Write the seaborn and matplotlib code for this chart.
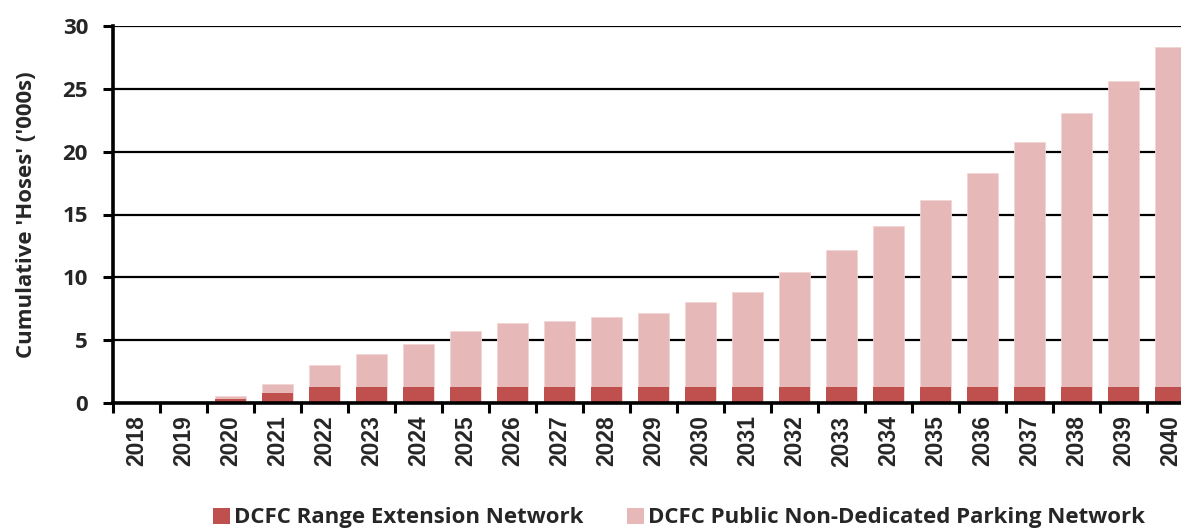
import matplotlib
matplotlib.use("Agg")
import matplotlib.pyplot as plt
import seaborn as sns
import pandas as pd
import numpy as np
from matplotlib.patches import Patch
from matplotlib.ticker import FixedLocator

years = [str(y) for y in range(2018, 2041)]
range_extension = [0, 0, 0.30, 0.82, 1.30, 1.30, 1.30, 1.30, 1.30, 1.30, 1.30, 1.30,
                   1.30, 1.30, 1.30, 1.30, 1.30, 1.30, 1.30, 1.30, 1.30, 1.30, 1.30]
public_parking = [0, 0, 0.25, 0.68, 1.75, 2.61, 3.43, 4.41, 5.07, 5.23, 5.53, 5.89,
                  6.74, 7.57, 9.16, 10.89, 12.77, 14.84, 17.04, 19.43, 21.80, 24.32, 27.03]
series_names = ["DCFC Range Extension Network", "DCFC Public Non-Dedicated Parking Network"]
y_ticks = [0, 5, 10, 15, 20, 25, 30]

dark = "#C0504D"
pink = "#E6B9B8"

sns.set_theme(style="white")
plt.rcParams["font.family"] = ["Open Sans", "DejaVu Sans"]
plt.rcParams["font.weight"] = "bold"

df = pd.DataFrame({
    "year": years,
    "range": range_extension,
    "total": np.array(range_extension) + np.array(public_parking),
})

fig = plt.figure(figsize=(11.81, 5.28), dpi=100)
ax = fig.add_axes([113 / 1181, 125 / 528, 1081 / 1181, 377 / 528])

sns.barplot(data=df, x="year", y="total", color=pink, width=0.68, ax=ax,
            edgecolor="#F2D6D5", linewidth=0.6, saturation=1, zorder=3)
sns.barplot(data=df, x="year", y="range", color=dark, width=0.68, ax=ax,
            linewidth=0, saturation=1, zorder=4)

ax.set_xlim(-0.5, len(years) - 0.5)
ax.set_ylim(0, 30)
ax.set_yticks(y_ticks)
ax.set_yticklabels([str(t) for t in y_ticks], fontsize=16, fontweight="bold")
ax.yaxis.grid(True, color="black", linewidth=1.6, zorder=1)
ax.set_axisbelow(True)

ax.set_xticks(range(len(years)))
ax.set_xticklabels(years, rotation=90, fontsize=16.5, fontweight="bold",
                   family=["Liberation Sans", "DejaVu Sans"])
ax.tick_params(axis="x", which="major", length=0, pad=9)
ax.xaxis.set_minor_locator(FixedLocator(np.arange(-0.5, len(years), 1.0)))
ax.tick_params(axis="x", which="minor", bottom=True, length=7, width=2.2, color="black", direction="out")
ax.tick_params(axis="y", which="major", left=True, length=7, width=2.2, color="black", direction="out", pad=11)

for side in ["top", "right"]:
    ax.spines[side].set_visible(False)
for side in ["left", "bottom"]:
    ax.spines[side].set_color("black")
    ax.spines[side].set_linewidth(2.6)
    ax.spines[side].set_zorder(5)

ax.set_xlabel("")
ax.set_ylabel("Cumulative 'Hoses' ('000s)", fontsize=16, fontweight="bold")
ax.yaxis.set_label_coords(-(113 - 37) / 1081, 0.5)

handles = [Patch(facecolor=dark, edgecolor="none"), Patch(facecolor=pink, edgecolor="none")]
fig.legend(handles, series_names, loc="center left", bbox_to_anchor=(193 / 1181, 1 - 518 / 528),
           ncol=2, frameon=False, prop={"weight": "bold", "size": 16},
           handlelength=0.75, handleheight=0.75, handletextpad=0.2, columnspacing=1.95)

fig.savefig("out.png", dpi=100)
